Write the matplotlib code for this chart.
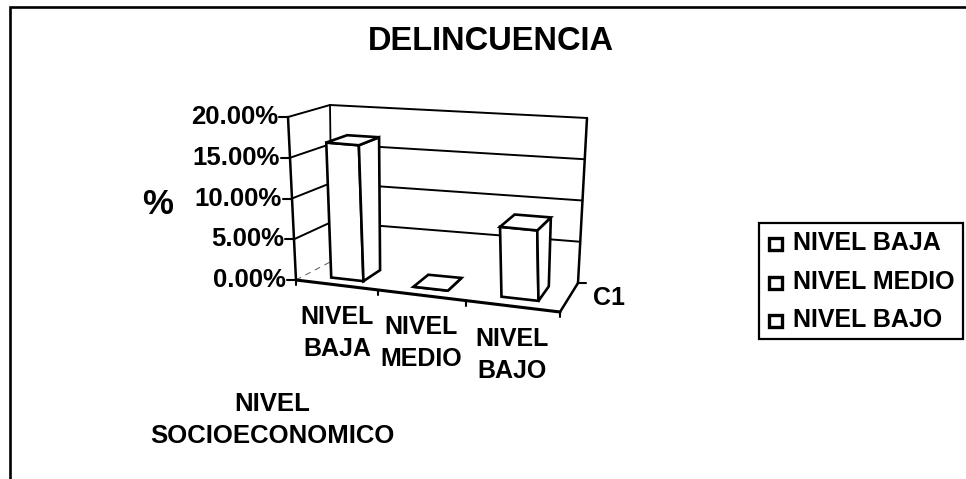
import numpy as np
import matplotlib
matplotlib.use("Agg")
import matplotlib.pyplot as plt
from matplotlib.patches import Polygon, Rectangle

plt.rcParams['font.family'] = ['Liberation Sans', 'DejaVu Sans']

title = "DELINCUENCIA"
categories = ["NIVEL\nBAJA", "NIVEL\nMEDIO", "NIVEL\nBAJO"]
legend_labels = ["NIVEL BAJA", "NIVEL MEDIO", "NIVEL BAJO"]
values = [16.67, 0.0, 8.33]
yticks = [0, 5, 10, 15, 20]
ytick_labels = ["0.00%", "5.00%", "10.00%", "15.00%", "20.00%"]
ylabel = "%"
xlabel = "NIVEL\nSOCIOECONOMICO"
depth_label = "C1"

W, H = 966, 479
fig = plt.figure(figsize=(W / 100, H / 100), dpi=100)
ax = fig.add_axes([0, 0, 1, 1])
ax.set_xlim(0, W)
ax.set_ylim(H, 0)
ax.axis("off")

# corners of the 3d box in pixels, scanned chart has some perspective
c000 = np.array([296, 280.0])  # front left bottom
c100 = np.array([560, 312.0])  # front right bottom
c010 = np.array([332, 261.0])  # back left bottom
c110 = np.array([578, 283.0])  # back right bottom
c001 = np.array([288, 117.0])  # front left top
c101 = np.array([553, 140.0])  # front right top
c011 = np.array([330, 105.0])  # back left top
c111 = np.array([587, 118.0])  # back right top


def pt(cat, depth, val):
    u = cat / len(categories)
    u = u / (u + 1.11 * (1 - u))  # categories get narrower to the left
    w = val / yticks[-1]
    bottom = (1 - u) * ((1 - depth) * c000 + depth * c010) + u * ((1 - depth) * c100 + depth * c110)
    top = (1 - u) * ((1 - depth) * c001 + depth * c011) + u * ((1 - depth) * c101 + depth * c111)
    return (1 - w) * bottom + w * top


line = dict(color="black", lw=1.5, solid_capstyle="round", zorder=2)


def seg(a, b, **kw):
    args = dict(line)
    args.update(kw)
    ax.plot([a[0], b[0]], [a[1], b[1]], **args)


# walls and grid
for t in yticks:
    if t:
        seg(pt(0, 0, t), pt(0, 1, t), lw=1.4)
        seg(pt(0, 1, t), pt(3, 1, t), lw=1.4)
    else:
        seg(pt(0, 0, t), pt(0, 1, t), lw=0.7, ls=(0, (6, 5)), color="0.35")
    p = pt(0, 0, t)
    seg(p, p + np.array([-9, 0]))
    ax.text(p[0] - 10, p[1], ytick_labels[t // 5], ha="right", va="center",
            fontsize=18.5, fontweight="bold")
seg(pt(0, 0, 0), pt(0, 0, 20), lw=1.8)
seg(pt(0, 1, 0), pt(0, 1, 20), lw=1.3)
seg(pt(3, 1, 0), pt(3, 1, 20), lw=1.8)
seg(pt(0, 0, 0), pt(3, 0, 0), lw=2.2)
seg(pt(3, 0, 0), pt(3, 1, 0), lw=1.8)
p = pt(3, 1, 0)
seg(p, p + np.array([8, 0]))
for i in range(len(categories) + 1):
    p = pt(i, 0, 0)
    seg(p, p + np.array([0, 5]))

# bars
for i, v in enumerate(values):
    x0, x1 = i + 0.32, i + 0.72
    d0, d1 = 0.28, 0.8
    front = [pt(x0, d0, 0), pt(x1, d0, 0), pt(x1, d0, v), pt(x0, d0, v)]
    side = [pt(x1, d0, 0), pt(x1, d1, 0), pt(x1, d1, v), pt(x1, d0, v)]
    top = [pt(x0, d0, v), pt(x1, d0, v), pt(x1, d1, v), pt(x0, d1, v)]
    for poly in (front, side, top):
        ax.add_patch(Polygon(poly, closed=True, fc="white", ec="black", lw=1.9, zorder=3))

# texts
ax.text(491, 41, title, ha="center", va="center", fontsize=23.5, fontweight="bold")
ax.text(158, 204, ylabel, ha="center", va="center", fontsize=25, fontweight="bold")
label_pos = [(337, 333), (421, 343), (512, 355)]
for (x, y), lab in zip(label_pos, categories):
    ax.text(x, y, lab, ha="center", va="center", fontsize=18, fontweight="bold", linespacing=1.4)
ax.text(272, 420, xlabel, ha="center", va="center", fontsize=18.5, fontweight="bold", linespacing=1.4)
ax.text(593, 298, depth_label, ha="left", va="center", fontsize=18, fontweight="bold")

# legend
ax.add_patch(Rectangle((759, 223), 204, 116, fc="white", ec="black", lw=1.6))
for i, lab in enumerate(legend_labels):
    y = 244 + i * 38.7
    ax.add_patch(Rectangle((769, y - 6), 13, 12, fc="white", ec="black", lw=2.4))
    ax.text(793, y - 1, lab, ha="left", va="center", fontsize=18, fontweight="bold")

# outer frame of the scan, no right side
ax.plot([9.5, 9.5, W], [H, 6.5, 6.5], color="black", lw=1.9, solid_joinstyle="miter")

fig.savefig("out.png", dpi=100)
